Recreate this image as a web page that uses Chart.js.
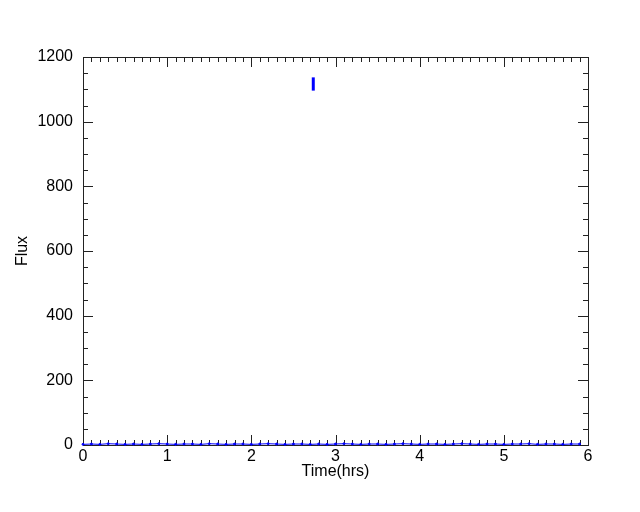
<!DOCTYPE html>
<html>
<head>
<meta charset="utf-8">
<script src="https://cdn.jsdelivr.net/npm/chart.js@4.4.1/dist/chart.umd.min.js"></script>
<style>
  html, body { margin: 0; padding: 0; background: #fff; }
  #wrap { width: 640px; height: 512px; }
</style>
</head>
<body>
<div id="wrap"><canvas id="flux"></canvas></div>
<script>
// light curve samples (hrs, flux) - nearly all sit on the floor
var times = [0.0, 0.1, 0.2, 0.3, 0.4, 0.5, 0.6, 0.7, 0.8, 0.9,
             1.0, 1.1, 1.2, 1.3, 1.4, 1.5, 1.6, 1.7, 1.8, 1.9,
             2.0, 2.1, 2.2, 2.3, 2.4, 2.5, 2.6, 2.7, 2.8, 2.9,
             3.0, 3.1, 3.2, 3.3, 3.4, 3.5, 3.6, 3.7, 3.8, 3.9,
             4.0, 4.1, 4.2, 4.3, 4.4, 4.5, 4.6, 4.7, 4.8, 4.9,
             5.0, 5.1, 5.2, 5.3, 5.4, 5.5, 5.6, 5.7, 5.8, 5.9];
var flux  = [2, 3, 2, 4, 3, 2, 3, 2, 3, 4,
             3, 2, 3, 3, 2, 4, 3, 2, 3, 3,
             2, 3, 4, 3, 2, 3, 3, 2, 3, 2,
             3, 4, 3, 2, 3, 3, 2, 3, 4, 3,
             2, 3, 3, 2, 3, 4, 3, 2, 3, 3,
             2, 3, 3, 4, 2, 3, 3, 2, 3, 3];

// the one outlier, shown as an error bar
var flareTime = 2.736;
var flareLow = 1096;
var flareHigh = 1137;

var xTicks = [0, 1, 2, 3, 4, 5, 6];
var yTicks = [0, 200, 400, 600, 800, 1000, 1200];

var pts = times.map(function (t, i) { return {x: t, y: flux[i]}; });
var flare = [{x: flareTime, y: flareLow}, {x: flareTime, y: flareHigh}];

//box frame with inward ticks on all four sides
var frameTicks = {
  id: 'frameTicks',
  beforeDatasetsDraw: function (chart) {
    var ctx = chart.ctx, a = chart.chartArea, xs = chart.scales.x, ys = chart.scales.y;
    ctx.save();
    ctx.strokeStyle = '#222';
    ctx.lineWidth = 1;
    ctx.strokeRect(Math.round(a.left) + 0.5, Math.round(a.top) + 0.5,
                   Math.round(a.right - a.left), Math.round(a.bottom - a.top));
    ctx.beginPath();
    for (var i = 0; i <= 60; i++) {
      var px = Math.round(xs.getPixelForValue(i / 10)) + 0.5;
      var len = (i % 10 === 0) ? 10 : 5;
      ctx.moveTo(px, a.bottom); ctx.lineTo(px, a.bottom - len);
      ctx.moveTo(px, a.top); ctx.lineTo(px, a.top + len);
    }
    for (var j = 0; j <= 24; j++) {
      var py = Math.round(ys.getPixelForValue(j * 50)) + 0.5;
      var l2 = (j % 4 === 0) ? 10 : 5;
      ctx.moveTo(a.left, py); ctx.lineTo(a.left + l2, py);
      ctx.moveTo(a.right, py); ctx.lineTo(a.right - l2, py);
    }
    ctx.stroke();
    ctx.restore();
  }
};

var font = {family: "'Liberation Sans', Arial, sans-serif", size: 16};

new Chart(document.getElementById('flux'), {
  type: 'scatter',
  data: {
    datasets: [
      {
        data: pts,
        showLine: true,
        borderColor: '#0000ff',
        backgroundColor: '#0000ff',
        borderWidth: 1,
        pointRadius: 1,
        pointHoverRadius: 1,
        clip: false
      },
      {
        data: flare,
        showLine: true,
        borderColor: '#0000ff',
        backgroundColor: '#0000ff',
        borderWidth: 3,
        pointRadius: 0,
        clip: false
      }
    ]
  },
  options: {
    responsive: true,
    maintainAspectRatio: false,
    animation: false,
    layout: { padding: { top: 57, right: 52, left: 0, bottom: 0 } },
    plugins: { legend: { display: false }, tooltip: { enabled: false } },
    scales: {
      x: {
        type: 'linear',
        min: 0, max: 6,
        afterBuildTicks: function (s) { s.ticks = xTicks.map(function (v) { return {value: v}; }); },
        afterFit: function (s) { s.height = 67; },
        grid: { display: false, drawTicks: false },
        border: { display: false },
        ticks: { color: '#000', font: font, padding: 2, maxRotation: 0,
                 callback: function (v) { return String(v); } },
        title: { display: true, text: 'Time(hrs)', color: '#000', font: font, padding: { top: 0, bottom: 31 } }
      },
      y: {
        type: 'linear',
        min: 0, max: 1200,
        afterBuildTicks: function (s) { s.ticks = yTicks.map(function (v) { return {value: v}; }); },
        afterFit: function (s) { s.width = 83; },
        grid: { display: false, drawTicks: false },
        border: { display: false },
        ticks: { color: '#000', font: font, padding: 10,
                 callback: function (v) { return String(v); } },
        title: { display: true, text: 'Flux', color: '#000', font: font, padding: { top: 13, bottom: 0 } }
      }
    }
  },
  plugins: [frameTicks]
});
</script>
</body>
</html>
